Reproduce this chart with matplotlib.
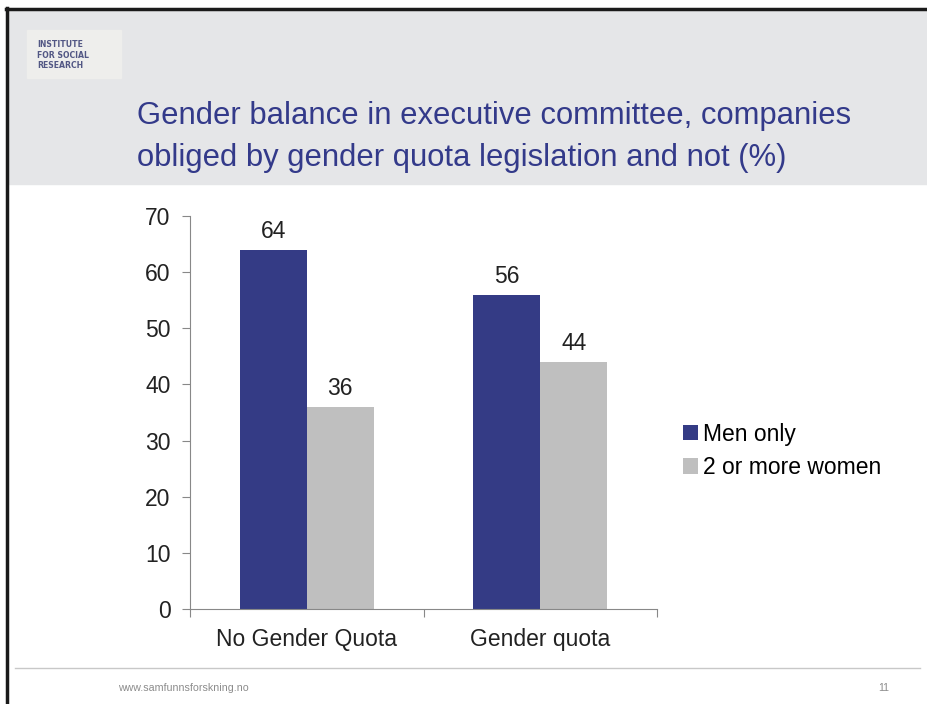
import matplotlib.pyplot as plt
import numpy as np
from matplotlib.patches import Rectangle

categories = ['No Gender Quota', 'Gender quota']
men_only = [64, 56]
two_or_more_women = [36, 44]
series_names = ['Men only', '2 or more women']
title = 'Gender balance in executive committee, companies\nobliged by gender quota legislation and not (%)'

blue = '#343B85'
gray = '#BFBFBF'
axis_col = '#888888'

plt.rcParams['font.family'] = ['Liberation Sans', 'DejaVu Sans']

fig = plt.figure(figsize=(9.27, 7.04), dpi=100)

# slide background: header band, frame, footer
W, H = 927, 704
def fx(px):
    return px / W
def fy(py):
    return 1 - py / H

fig.patches.append(Rectangle((fx(7), fy(184)), 1, fy(10) - fy(184),
                             transform=fig.transFigure, color='#E5E6E8', zorder=0))
fig.add_artist(plt.Line2D([fx(7), fx(7)], [0, fy(8)], color='#1a1a1a', lw=2.5))
fig.add_artist(plt.Line2D([fx(6), 1], [fy(9), fy(9)], color='#1a1a1a', lw=2.5))
fig.add_artist(plt.Line2D([fx(15), fx(920)], [fy(668), fy(668)], color='#C8C8C8', lw=1))

# logo box
fig.patches.append(Rectangle((fx(27), fy(78)), fx(121) - fx(27), fy(30) - fy(78),
                             transform=fig.transFigure, color='#EEEEEC', zorder=1))
fig.text(fx(37), fy(55), 'INSTITUTE\nFOR SOCIAL\nRESEARCH', fontsize=5.6,
         family='DejaVu Sans', weight='bold', color='#525784', va='center',
         linespacing=1.15)

fig.text(fx(137), fy(137), title, fontsize=22.3, color='#333A8A', va='center',
         linespacing=1.5)

fig.text(fx(118), fy(688), 'www.samfunnsforskning.no', fontsize=7.7, color='#8C8C8C', va='center')
fig.text(fx(889), fy(688), '11', fontsize=7.7, color='#8C8C8C', va='center', ha='right')

# chart
ax = fig.add_axes([fx(190), fy(609), fx(657) - fx(190), fy(216) - fy(609)])
x = np.arange(len(categories))
w = 0.287
b1 = ax.bar(x - w / 2, men_only, w, color=blue, label=series_names[0])
b2 = ax.bar(x + w / 2, two_or_more_women, w, color=gray, label=series_names[1])
for bars in (b1, b2):
    for r in bars:
        ax.text(r.get_x() + r.get_width() / 2, r.get_height() + 1.2, f'{r.get_height():.0f}',
                ha='center', va='bottom', fontsize=16.5, color='#222222')

ax.set_xlim(-0.5, 1.5)
ax.set_ylim(0, 70)
ax.set_yticks(range(0, 71, 10))
ax.set_xticks([-0.5, 0.5, 1.5])
ax.set_xticklabels([])
ax.set_xticks(x, minor=True)
ax.set_xticklabels(categories, minor=True)
ax.tick_params(axis='x', which='minor', length=0, labelsize=16.5, pad=14, colors='#222222')
ax.tick_params(axis='x', which='major', length=6, color=axis_col, direction='out')
ax.tick_params(axis='y', length=6, color=axis_col, labelsize=16.5, labelcolor='#222222', pad=8)
for s in ['top', 'right']:
    ax.spines[s].set_visible(False)
for s in ['left', 'bottom']:
    ax.spines[s].set_color(axis_col)

fig.legend(handles=[b1, b2], labels=series_names, loc='center left',
           bbox_to_anchor=(fx(662), fy(451)), frameon=False, fontsize=16.5,
           handlelength=0.65, handleheight=0.65, handletextpad=0.25, labelspacing=0.45)

fig.savefig('out.png', dpi=100)
